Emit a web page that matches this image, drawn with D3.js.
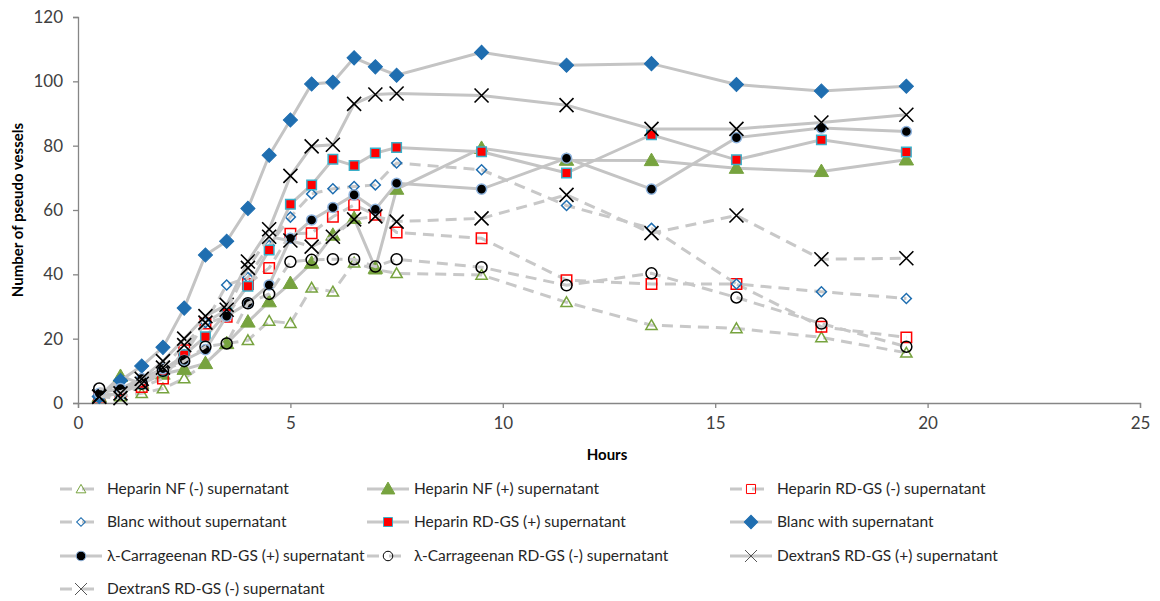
<!DOCTYPE html>
<meta charset="utf-8">
<body style="margin:0;background:#fff">
<svg width="1160" height="601"></svg>
</body>
<style>
text { font-family: Lato, "Open Sans", sans-serif; fill: #262626; }
.axis path, .axis line { stroke: #868686; }
.axis text { font-size: 17px; fill: #404040; }
.title { font-size: 15px; font-weight: bold; fill: #000; }
.legend text { font-size: 15.5px; fill: #262626; }
</style>
<script src="https://d3js.org/d3.v7.min.js"></script>
<script>

// time points (hours)
var hours = [0.5, 1, 1.5, 2, 2.5, 3, 3.5, 4, 4.5, 5, 5.5, 6, 6.5, 7, 7.5, 9.5, 11.5, 13.5, 15.5, 17.5, 19.5];

var heparinNFMinus   = [2, 2, 3, 4.5, 7.6, 12.3, 18.5, 19.5, 25.5, 24.8, 35.8, 34.6, 43.6, 41.5, 40.3, 39.8, 31.3, 24.2, 23.2, 20.4, 15.6];
var heparinNFPlus    = [2, 8.3, 6, 9, 10.5, 12.3, 18.5, 25.2, 31.5, 37.2, 43.5, 52.2, 57.4, 41.9, 66.5, 79.2, 75.5, 75.4, 73, 72, 75.6];
var heparinRDMinus   = [2, 3.5, 5, 7.6, 16.4, 24.7, 26.8, 37, 42, 52.6, 52.8, 57.9, 61.6, 58.5, 53, 51.2, 38.2, 37, 37, 23.7, 20.4];
var blancWithout     = [2, 3, 6, 10, 15, 25, 36.7, 39, 49, 57.8, 65, 66.6, 67.3, 67.8, 74.6, 72.5, 61.4, 54.3, 37, 34.6, 32.5];
var heparinRDPlus    = [2, 3, 6, 10, 15, 20.6, 28, 36.3, 47.6, 61.8, 67.8, 75.8, 73.8, 77.7, 79.4, 78.1, 71.5, 83.4, 75.6, 81.8, 78];
var blancWith        = [2, 7, 11.5, 17.3, 29.5, 46, 50.3, 60.5, 77, 88, 99.2, 99.7, 107.3, 104.5, 101.9, 109, 105, 105.5, 99, 97, 98.5];
var carrageenanPlus  = [3, 4.5, 7.6, 10.7, 13.3, 16.6, 27, 31, 36.7, 51.2, 56.9, 60.8, 64.7, 60.2, 68.3, 66.5, 76.1, 66.5, 82.5, 85.5, 84.4];
var carrageenanMinus = [4.5, 3.5, 6, 10, 13, 17.5, 18.5, 31, 33.9, 43.9, 44.5, 44.7, 44.7, 42.4, 44.7, 42.2, 36.6, 40.3, 32.8, 24.7, 17.5];
var dextranPlus      = [2, 3, 7.5, 13, 20, 27, 30.5, 44, 54, 70.6, 79.8, 80.3, 93, 95.9, 96.2, 95.6, 92.6, 85.2, 85.2, 87.2, 89.6];
var dextranMinus     = [2, 1.5, 6, 11, 18, 25, 29, 42, 51.7, 50.5, 48.6, 51.7, 57.1, 58, 56.4, 57.4, 64.7, 52.8, 58.3, 44.7, 45];

var xTicks = [0, 5, 10, 15, 20, 25];
var yTicks = [0, 20, 40, 60, 80, 100, 120];

// series in legend order; marker: shape, fill, stroke
var series = [
  {name: "Heparin NF (-) supernatant", values: heparinNFMinus, dashed: true, shape: "triangle", size: 55, fill: "none", stroke: "#77a33f", sw: 1.5},
  {name: "Heparin NF (+) supernatant", values: heparinNFPlus, dashed: false, shape: "triangle", size: 90, fill: "#77a33f", stroke: "#77a33f", sw: 1},
  {name: "Heparin RD-GS (-) supernatant", values: heparinRDMinus, dashed: true, shape: "square", size: 110, fill: "none", stroke: "#ff0000", sw: 1.5},
  {name: "Blanc without supernatant", values: blancWithout, dashed: true, shape: "diamond", size: 50, fill: "none", stroke: "#1f6eb0", sw: 1.5},
  {name: "Heparin RD-GS (+) supernatant", values: heparinRDPlus, dashed: false, shape: "square", size: 90, fill: "#ff0000", stroke: "#3aafc9", sw: 1.5},
  {name: "Blanc with supernatant", values: blancWith, dashed: false, shape: "diamond", size: 100, fill: "#1f6eb0", stroke: "#1f6eb0", sw: 1},
  {name: "λ-Carrageenan RD-GS (+) supernatant", values: carrageenanPlus, dashed: false, shape: "circle", size: 80, fill: "#000", stroke: "#8fb4de", sw: 1.5},
  {name: "λ-Carrageenan RD-GS (-) supernatant", values: carrageenanMinus, dashed: true, shape: "circle", size: 95, fill: "none", stroke: "#000", sw: 1.5},
  {name: "DextranS RD-GS (+) supernatant", values: dextranPlus, dashed: false, shape: "x", size: 7, fill: "none", stroke: "#000", sw: 1.6},
  {name: "DextranS RD-GS (-) supernatant", values: dextranMinus, dashed: true, shape: "x", size: 7, fill: "none", stroke: "#000", sw: 1.6}
];

var svg = d3.select("svg");
var margin = {left: 78, right: 20, top: 17, bottom: 198};
var width = 1160, height = 601;

var x = d3.scaleLinear().domain([0, 25]).range([margin.left, width - margin.right]);
var y = d3.scaleLinear().domain([0, 120]).range([height - margin.bottom, margin.top]);

function markerPath(s) {
  if (s.shape == "x") {
    var r = s.size;
    return "M" + (-r) + "," + (-r) + "L" + r + "," + r + "M" + (-r) + "," + r + "L" + r + "," + (-r);
  }
  var type = {triangle: d3.symbolTriangle, square: d3.symbolSquare, diamond: d3.symbolSquare, circle: d3.symbolCircle}[s.shape];
  return d3.symbol().type(type).size(s.size)();
}

function markerTransform(s, px, py) {
  var t = "translate(" + px + "," + py + ")";
  if (s.shape == "diamond") t += " rotate(45)";
  if (s.shape == "triangle") t += " translate(0,1)";
  return t;
}

// axes
svg.append("g")
    .attr("class", "axis")
    .attr("transform", "translate(0," + y(0) + ")")
    .call(d3.axisBottom(x).tickValues(xTicks).tickSizeOuter(0).tickSize(5).tickPadding(9));

svg.append("g")
    .attr("class", "axis")
    .attr("transform", "translate(" + x(0) + ",0)")
    .call(d3.axisLeft(y).tickValues(yTicks).tickSizeOuter(0).tickSize(5).tickPadding(10));

svg.selectAll(".axis path, .axis line").attr("stroke-width", 1.3);

svg.append("text")
    .attr("class", "title")
    .attr("x", 607)
    .attr("y", 460)
    .attr("text-anchor", "middle")
    .text("Hours");

svg.append("text")
    .attr("class", "title")
    .attr("transform", "translate(23,210) rotate(-90)")
    .attr("text-anchor", "middle")
    .text("Number of pseudo vessels");

var line = d3.line()
    .x(function(d) { return x(d[0]); })
    .y(function(d) { return y(d[1]); });

// each series: line then markers
series.forEach(function(s) {
  var pts = hours.map(function(h, i) { return [h, s.values[i]]; });
  var g = svg.append("g");
  g.append("path")
      .datum(pts)
      .attr("d", line)
      .attr("fill", "none")
      .attr("stroke", s.dashed ? "#c8c8c8" : "#c4c4c4")
      .attr("stroke-width", 3)
      .attr("stroke-dasharray", s.dashed ? "11,7" : null);
  g.selectAll(".m")
    .data(pts)
    .enter().append("path")
      .attr("d", markerPath(s))
      .attr("transform", function(d) { return markerTransform(s, x(d[0]), y(d[1])); })
      .attr("fill", s.fill)
      .attr("stroke", s.stroke)
      .attr("stroke-width", s.sw);
});

// legend, 3 columns
var colX = [60, 367, 730];
var rowY = [489, 522, 556, 589];

var legend = svg.append("g").attr("class", "legend");
series.forEach(function(s, i) {
  var lx = colX[i % 3], ly = rowY[Math.floor(i / 3)];
  var g = legend.append("g");
  g.append("line")
      .attr("x1", lx).attr("x2", lx + 42)
      .attr("y1", ly).attr("y2", ly)
      .attr("stroke", "#c8c8c8")
      .attr("stroke-width", 3)
      .attr("stroke-dasharray", s.dashed ? "12,10" : null);
  var ls = Object.assign({}, s);
  if (s.shape == "x") ls.size = 6;
  else ls.size = s.size * (s.fill == "none" ? 0.75 : 0.9);
  g.append("path")
      .attr("d", markerPath(ls))
      .attr("transform", markerTransform(ls, lx + 21, ly))
      .attr("fill", s.fill)
      .attr("stroke", s.shape == "x" ? "#555" : s.stroke)
      .attr("stroke-width", 1);
  g.append("text")
      .attr("x", lx + 47)
      .attr("y", ly + 5)
      .text(s.name);
});

</script>
